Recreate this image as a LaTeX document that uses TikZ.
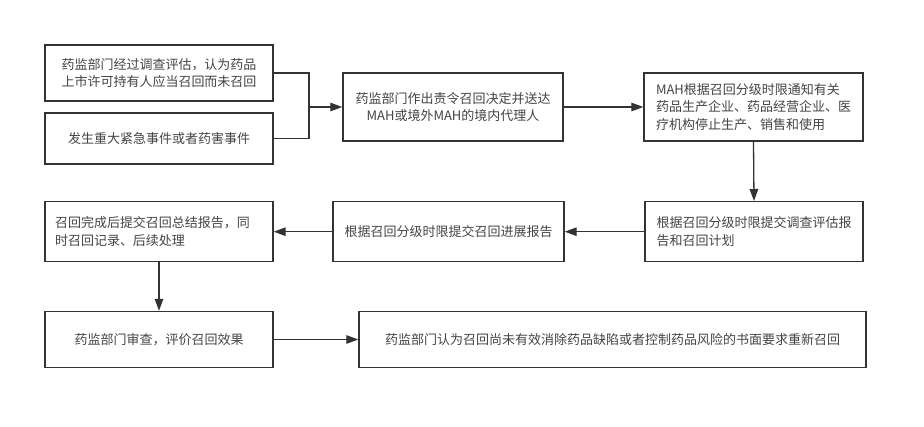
\documentclass[tikz,border=0pt]{standalone}
\usepackage{fontspec}
\setmainfont{Noto Sans CJK SC}
\usetikzlibrary{arrows.meta}
\definecolor{linec}{HTML}{333333}
\definecolor{textc}{HTML}{444444}
\begin{document}
\begin{tikzpicture}[x=1pt,y=-1pt,
  box/.style={draw=linec, line width=1.4pt, fill=white, inner sep=0pt,
    text=textc, font=\fontsize{13}{17.5}\selectfont, align=center},
  lbox/.style={box, align=left},
  conn/.style={draw=linec, line width=1.3pt},
  arr/.style={conn, -{Triangle[length=12pt,width=8.5pt]}}]
\useasboundingbox[fill=white] (0,0) rectangle (924,426);
% row 1
\node[box, minimum width=228pt, minimum height=56pt] (a1) at (159,73)
  {药监部门经过调查评估，认为药品\\上市许可持有人应当召回而未召回};
\node[box, minimum width=228pt, minimum height=51pt] (a2) at (159,138.5)
  {发生重大紧急事件或者药害事件};
\node[box, minimum width=220pt, minimum height=68pt] (b) at (453,107)
  {药监部门作出责令召回决定并送达\\MAH或境外MAH的境内代理人};
\node[lbox, minimum width=219pt, minimum height=68pt] (c) at (753.5,107)
  {MAH根据召回分级时限通知有关\\药品生产企业、药品经营企业、医\\疗机构停止生产、销售和使用};
% row 2
\node[lbox, minimum width=218pt, minimum height=60pt] (d) at (754,231.7)
  {根据召回分级时限提交调查评估报\\告和召回计划};
\node[box, minimum width=231pt, minimum height=60pt] (e) at (448.5,231.7)
  {根据召回分级时限提交召回进展报告};
\node[lbox, text width=208pt, inner xsep=10pt, minimum height=60pt] (f) at (159,231.7)
  {召回完成后提交召回总结报告，同\\时召回记录、后续处理};
% row 3
\node[box, minimum width=228pt, minimum height=56pt] (g) at (159,339.5)
  {药监部门审查，评价召回效果};
\node[box, minimum width=507pt, minimum height=56pt] (h) at (612.5,339.5)
  {药监部门认为召回尚未有效消除药品缺陷或者控制药品风险的书面要求重新召回};
% connectors
\coordinate (j) at (309,107);
\draw[conn] (a1.east) -| (j);
\draw[conn] (a2.east) -| (j);
\draw[arr] (j) -- (b.west);
\draw[arr] (b.east) -- (c.west);
\draw[arr] (c.south) -- (d.north);
\draw[arr] (d.west) -- (e.east);
\draw[arr] (e.west) -- (f.east);
\draw[arr] (f.south) -- (g.north);
\draw[arr] (g.east) -- (h.west);
\end{tikzpicture}
\end{document}
